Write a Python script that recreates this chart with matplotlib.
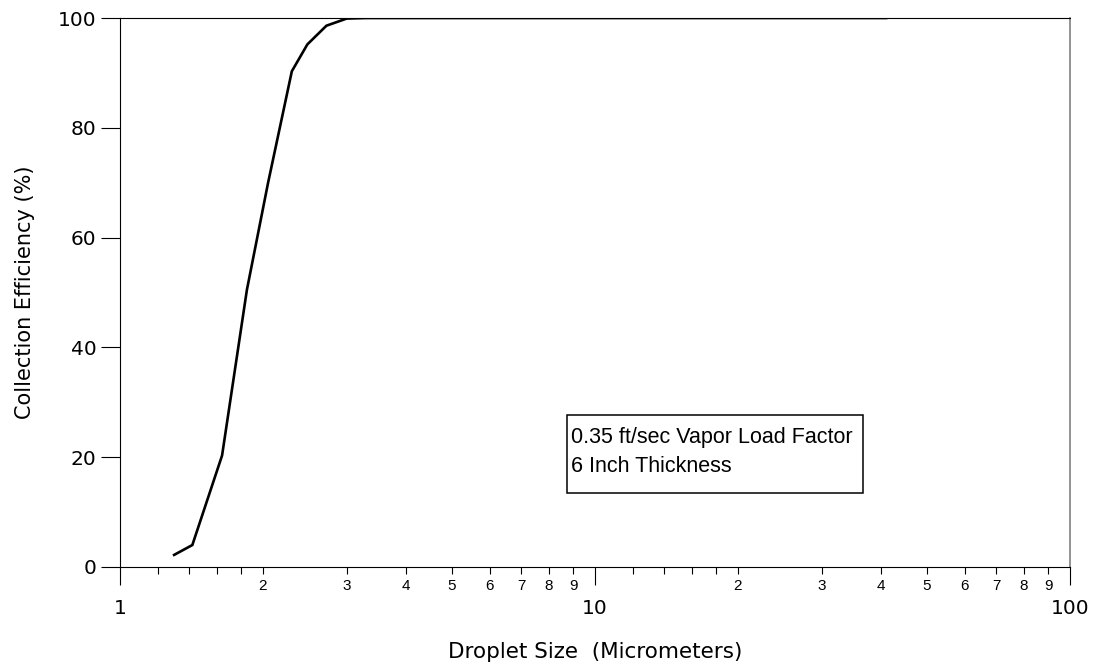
import numpy as np
import matplotlib.pyplot as plt
from matplotlib.patches import Rectangle
from matplotlib.ticker import FixedLocator, FuncFormatter

plt.rcParams['font.family'] = ['Liberation Sans', 'DejaVu Sans']

# Curva de eficiência de coleta
droplet_size = [1.3, 1.42, 1.64, 1.85, 2.05, 2.3, 2.48, 2.72, 3.0, 3.3, 41]
efficiency = [2.2, 4.0, 20.3, 50.5, 70.0, 90.3, 95.2, 98.6, 99.9, 100, 100]

y_ticks = [0, 20, 40, 60, 80, 100]
major_x = [1, 10, 100]
minor_x = [1.2, 1.4, 1.6, 1.8, 2, 3, 4, 5, 6, 7, 8, 9,
           12, 14, 16, 18, 20, 30, 40, 50, 60, 70, 80, 90]

wide = ['DejaVu Sans']  # fonte mais larga para os eixos

fig = plt.figure(figsize=(10.98, 6.65), dpi=100)
ax = fig.add_axes([0.1093, 0.1474, 0.8652, 0.8255])

ax.plot(droplet_size, efficiency, color='black', lw=1.9, solid_joinstyle='miter')

ax.set_xscale('log')
ax.set_xlim(1, 100)
ax.set_ylim(0, 100)

ax.xaxis.set_major_locator(FixedLocator(major_x))
ax.xaxis.set_major_formatter(FuncFormatter(lambda v, p: f'{v:g}'))
ax.xaxis.set_minor_locator(FixedLocator(minor_x))


def minor_fmt(v, p):
    d = v / 10 ** np.floor(np.log10(v) + 1e-9)
    if abs(d - round(d)) < 1e-6 and round(d) >= 2:
        return str(int(round(d)))
    return ''


ax.xaxis.set_minor_formatter(FuncFormatter(minor_fmt))
ax.tick_params(axis='x', which='major', direction='out', length=13, width=0.8,
               pad=10)
ax.tick_params(axis='x', which='minor', direction='out', length=5, width=0.8,
               pad=4, labelsize=11)
ax.set_yticks(y_ticks)
ax.tick_params(axis='y', direction='out', length=14, width=0.8, pad=3)

for lbl in ax.get_xticklabels(which='major') + ax.get_yticklabels():
    lbl.set_family(wide)
    lbl.set_fontsize(14.5)

for s in ['left', 'bottom', 'top']:
    ax.spines[s].set_linewidth(0.8)
ax.spines['right'].set_color('grey')
ax.spines['right'].set_linewidth(1.2)

ax.set_xlabel('Droplet Size  (Micrometers)', fontsize=15.5, family=wide)
ax.set_ylabel('Collection Efficiency (%)', fontsize=15, family=wide)
ax.xaxis.set_label_coords(0.5, -0.136)
ax.yaxis.set_label_coords(-0.09, 0.5)

# Caixa de anotação
ax.add_patch(Rectangle((0.4705, 0.1348), 0.3116, 0.1421, transform=ax.transAxes,
                       fc='white', ec='black', lw=1.1, zorder=3))
ax.text(0.4747, 0.2095, '0.35 ft/sec Vapor Load Factor\n6 Inch Thickness',
        transform=ax.transAxes, fontsize=15.5, va='center', ha='left',
        linespacing=1.55, zorder=4)

plt.savefig('out.png', dpi=100)
